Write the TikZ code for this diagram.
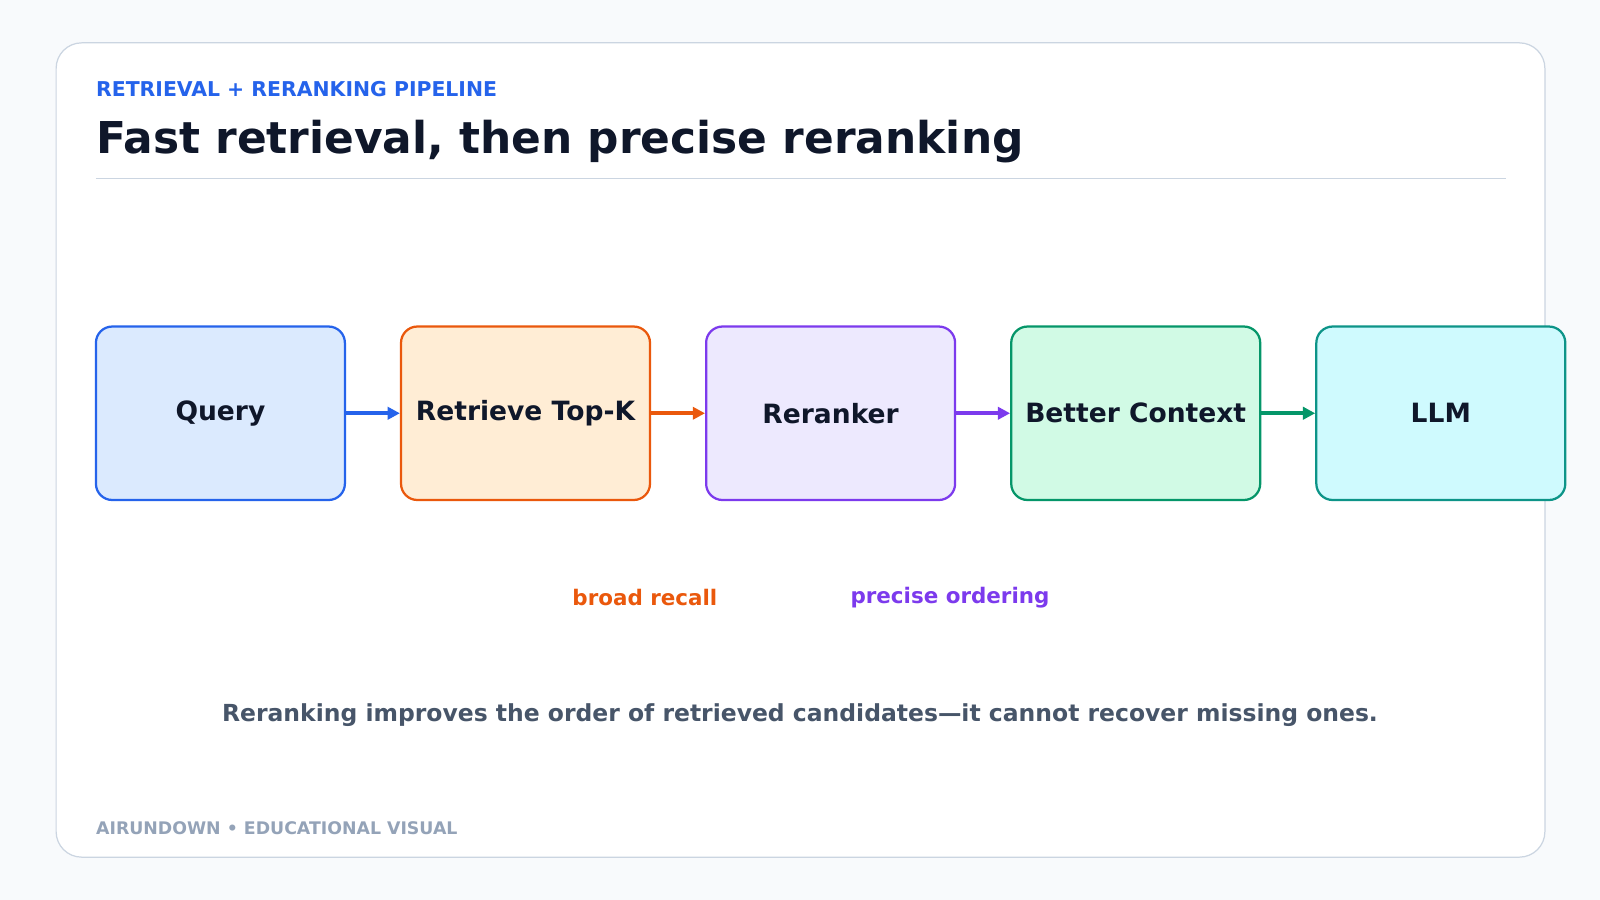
\documentclass[tikz,border=0pt]{standalone}
\usepackage{fontspec}
\setmainfont{DejaVu Sans}
\usetikzlibrary{arrows.meta, positioning}
\definecolor{bg}{HTML}{F8FAFC}
\definecolor{cardline}{HTML}{CBD5E1}
\definecolor{ink}{HTML}{0F172A}
\definecolor{slate}{HTML}{475569}
\definecolor{muted}{HTML}{94A3B8}
\definecolor{qline}{HTML}{2563EB}\definecolor{qfill}{HTML}{DBEAFE}
\definecolor{rline}{HTML}{EA580C}\definecolor{rfill}{HTML}{FFEDD5}
\definecolor{kline}{HTML}{7C3AED}\definecolor{kfill}{HTML}{EDE9FE}
\definecolor{cline}{HTML}{059669}\definecolor{cfill}{HTML}{D1FAE5}
\definecolor{lline}{HTML}{0D9488}\definecolor{lfill}{HTML}{CFFAFE}

\begin{document}
\begin{tikzpicture}[
    x=1pt, y=-1pt,
    every node/.style={font=\bfseries, inner sep=0pt},
    stage/.style={draw, line width=2.2pt, rounded corners=16pt, minimum width=244pt, minimum height=170pt, font=\fontsize{26}{30}\bfseries\selectfont, text=ink},
    arrow/.style={-{Triangle[length=12pt, width=12pt]}, line width=3.5pt}
]
\fill[bg] (0,0) rectangle (1568,882);
\useasboundingbox (0,0) rectangle (1568,882);
\draw[cardline, fill=white, line width=1.2pt, rounded corners=25pt] (55,42) rectangle (1514,840);
\node[anchor=base west, text=qline, font=\fontsize{20}{24}\bfseries\selectfont] (header) at (94,95) {RETRIEVAL + RERANKING PIPELINE};
\node[anchor=base west, text=ink, font=\fontsize{43}{50}\bfseries\selectfont] (title) at (94,150) {Fast retrieval, then precise reranking};
\draw[cardline, line width=1.2pt] (94,175) -- (1476,175);

\node[stage, draw=qline, fill=qfill] (query) at (216,405) {Query};
\node[stage, draw=rline, fill=rfill] (retrieve) at (515,405) {Retrieve Top-K};
\node[stage, draw=kline, fill=kfill] (reranker) at (814,405) {Reranker};
\node[stage, draw=cline, fill=cfill] (context) at (1113,405) {Better Context};
\node[stage, draw=lline, fill=lfill] (llm) at (1412,405) {LLM};
\draw[arrow, qline] (query) -- (retrieve);
\draw[arrow, rline] (retrieve) -- (reranker);
\draw[arrow, kline] (reranker) -- (context);
\draw[arrow, cline] (context) -- (llm);

\node[text=rline, font=\fontsize{21}{25}\bfseries\selectfont] (recall) at (632,586) {broad recall};
\node[text=kline, font=\fontsize{21}{25}\bfseries\selectfont] (ordering) at (931,586) {precise ordering};
\node[text=slate, font=\fontsize{23}{28}\bfseries\selectfont] (note) at (784,701) {Reranking improves the order of retrieved candidates—it cannot recover missing ones.};
\node[anchor=base west, text=muted, font=\fontsize{17}{20}\bfseries\selectfont] (footer) at (94,818) {AIRUNDOWN • EDUCATIONAL VISUAL};
\end{tikzpicture}
\end{document}
